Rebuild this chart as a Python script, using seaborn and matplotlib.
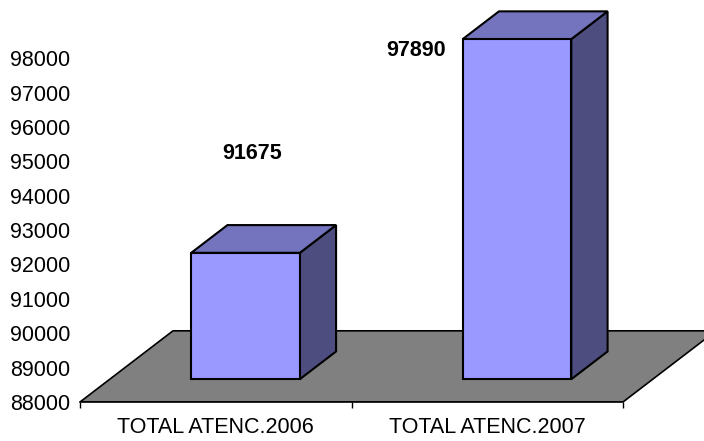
import numpy as np
import pandas as pd
import matplotlib
matplotlib.use('Agg')
import matplotlib.pyplot as plt
import seaborn as sns
from matplotlib.patches import Polygon

# data
categories = ['TOTAL ATENC.2006', 'TOTAL ATENC.2007']
totals = [91675, 97890]
y_ticks = list(range(88000, 99000, 1000))

df = pd.DataFrame({'categoria': categories, 'total': totals})

# layout (Excel-style 3D column look)
base = 88000
ymax = 99690
dx = 0.3425      # floor depth, category units
dy = 2070        # floor depth, value units
f0, f1 = 0.32, 0.71   # bar front / back as fraction of floor depth
front_col, top_col, side_col = '#9999ff', '#7474be', '#4d4d80'
floor_col = '#808080'
fs = 15.5
# value label anchors relative to (category, value)
label_off = [(0.134, 3540), (-0.262, 340)]

sns.set_theme(style='white')
plt.rcParams['font.family'] = ['Liberation Sans', 'DejaVu Sans']

fig = plt.figure(figsize=(7.04, 4.41), dpi=100)
ax = fig.add_axes([80 / 704, 39 / 441, 624 / 704, 402 / 441])

sns.barplot(data=df, x='categoria', y='total', width=0.4, color=front_col, saturation=1,
            edgecolor='black', linewidth=1.5, ax=ax, zorder=4)
bars = list(ax.containers[0])

# floor
floor = Polygon([(-0.5, base), (1.5, base), (1.5 + dx, base + dy), (-0.5 + dx, base + dy)],
                closed=True, facecolor=floor_col, edgecolor='black', linewidth=1.2, zorder=1)
ax.add_patch(floor)

ddx = (f1 - f0) * dx
ddy = (f1 - f0) * dy
for p, v in zip(bars, totals):
    x0 = p.get_x() + f0 * dx
    w = p.get_width()
    y0 = base + f0 * dy
    top = y0 + (v - base)
    p.set_x(x0)
    p.set_y(y0)
    p.set_height(v - base)
    side = Polygon([(x0 + w, y0), (x0 + w, top), (x0 + w + ddx, top + ddy), (x0 + w + ddx, y0 + ddy)],
                   closed=True, facecolor=side_col, edgecolor='black', linewidth=1.5, zorder=3)
    lid = Polygon([(x0, top), (x0 + w, top), (x0 + w + ddx, top + ddy), (x0 + ddx, top + ddy)],
                  closed=True, facecolor=top_col, edgecolor='black', linewidth=1.5, zorder=3)
    ax.add_patch(side)
    ax.add_patch(lid)

for i, (v, (ox, oy)) in enumerate(zip(totals, label_off)):
    ax.text(i + ox, v + oy, str(v), ha='center', va='center', fontsize=fs,
            fontweight='bold', color='black')

ax.set_xlim(-0.5, -0.5 + 624 / 271.5)
ax.set_ylim(base, ymax)
ax.set_yticks(y_ticks)
ax.set_yticklabels([str(t) for t in y_ticks], fontsize=fs, color='black')
ax.tick_params(axis='y', length=0, pad=7)

ax.set_xticks([-0.5, 0.5, 1.5])
ax.set_xticklabels(['', '', ''])
ax.set_xticks([0, 1], minor=True)
ax.set_xticklabels(categories, minor=True, fontsize=fs, color='black')
ax.tick_params(axis='x', which='major', direction='out', length=4.5, width=1, color='black', bottom=True)
ax.tick_params(axis='x', which='minor', length=0, pad=11)

for s in ['top', 'right', 'left']:
    ax.spines[s].set_visible(False)
ax.spines['bottom'].set_bounds(-0.5, 1.5)
ax.spines['bottom'].set_color('black')
ax.spines['bottom'].set_linewidth(1.2)
ax.set_xlabel('')
ax.set_ylabel('')
ax.patch.set_visible(False)

fig.savefig('out.png', dpi=100)
